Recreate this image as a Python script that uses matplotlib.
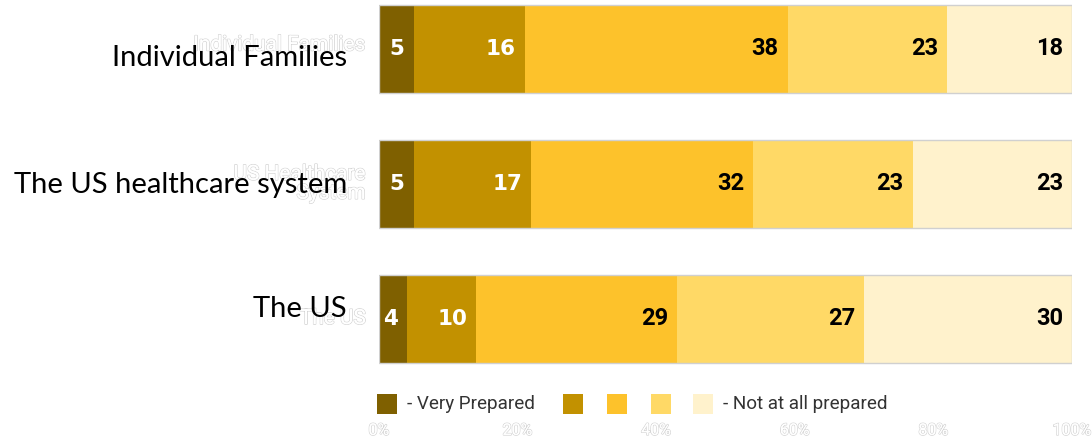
import numpy as np
import matplotlib.pyplot as plt
import matplotlib.patheffects as pe
from matplotlib.patches import Rectangle

# survey data (percent of respondents)
categories = ['Individual Families', 'The US healthcare system', 'The US']
ghost_labels = ['Individual Families', 'US Healthcare\nSystem', 'The US']
very_prepared = [5, 5, 4]
level2 = [16, 17, 10]
level3 = [38, 32, 29]
level4 = [23, 23, 27]
not_prepared = [18, 23, 30]
series = [very_prepared, level2, level3, level4, not_prepared]
colors = ['#7f6000', '#c29100', '#fdc22b', '#ffd966', '#fff2cc']
label_colors = ['white', 'white', 'black', 'black', 'black']
xticks = [0, 20, 40, 60, 80, 100]

fig = plt.figure(figsize=(10.92, 4.40), dpi=100)
ax = fig.add_axes([379 / 1092, 0, 693 / 1092, 1])

ypos = np.arange(len(categories))
h = 0.653
left = np.zeros(len(categories))
for vals, c, lc in zip(series, colors, label_colors):
    vals = np.array(vals, dtype=float)
    ax.barh(ypos, vals, left=left, height=h, color=c, edgecolor='none')
    for y, l, v in zip(ypos, left, vals):
        if lc == 'white':
            ax.text(l + v - 1.3, y, '%d' % v, ha='right', va='center', color=lc,
                    fontsize=15.5, fontweight='bold', family='DejaVu Sans')
        else:
            ax.text(l + v - 1.3, y, '%d' % v, ha='right', va='center', color=lc,
                    fontsize=17, fontweight='bold', family='Roboto')
    left += vals
ax.barh(ypos, left, height=h, facecolor='none', edgecolor='#d0d0d0', lw=1)

ax.set_xlim(0, 100)
ax.set_ylim(2.9016, -0.3636)
ax.axis('off')

ghost = [pe.withStroke(linewidth=1.1, foreground='#d4d4d4'), pe.Normal()]
offsets = [0.07, 0.01, -0.07]
for y, cat, g, off in zip(ypos, categories, ghost_labels, offsets):
    t = ax.text(-1.9, y - 0.03 if y == 0 else y, g, ha='right', va='center',
                fontsize=15, family='Roboto', color='white', linespacing=1.0,
                zorder=0)
    t.set_path_effects(ghost)
    ax.text(-4.6, y + off, cat, ha='right', va='center', fontsize=21,
            family='Lato', color='black', zorder=1)

for x in xticks:
    t = ax.text(x, 2.83, '%d%%' % x, ha='center', va='center', fontsize=11.5,
                family='Roboto', color='white')
    t.set_path_effects(ghost)

# legend drawn by hand
legend_y = 1 - 404 / 440
sq_w = 20 / 1092
sq_h = 20 / 440
sq_x = [377, 563, 607, 651, 693]
for x, c in zip(sq_x, colors):
    fig.patches.append(Rectangle((x / 1092, legend_y - sq_h / 2), sq_w, sq_h,
                                 transform=fig.transFigure, facecolor=c,
                                 edgecolor='none'))
fig.text(407 / 1092, legend_y, '- Very Prepared', ha='left', va='center',
         fontsize=13.6, family='Roboto', color='#333333')
fig.text(723 / 1092, legend_y, '- Not at all prepared', ha='left', va='center',
         fontsize=13.6, family='Roboto', color='#333333')

fig.savefig('out.png', dpi=100)
